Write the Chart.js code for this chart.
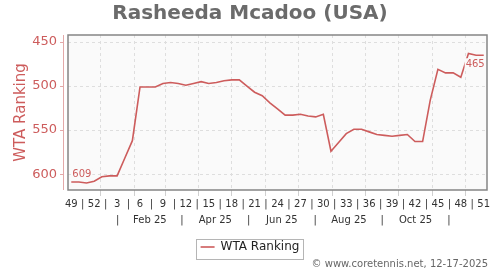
<!DOCTYPE html>
<html>
<head>
<meta charset="utf-8">
<script src="https://cdn.jsdelivr.net/npm/chart.js@4.4.1/dist/chart.umd.min.js"></script>
<style>
  html, body { margin: 0; padding: 0; background: #fff; }
</style>
</head>
<body>
<canvas id="rankChart" width="500" height="270"></canvas>
<script>
// Weekly WTA ranking, one value per ISO week (plotted on the week's Thursday)
const playerName = "Rasheeda Mcadoo (USA)";
const seriesLabel = "WTA Ranking";
const firstWeek = "2024-12-05";   // week 49 / 2024
const wtaRanking = [
  609, 609, 610, 608, 603, 602, 602, 582, 562, 501,
  501, 501, 497, 496, 497, 499, 497, 495, 497, 496,
  494, 493, 493, 500, 507, 511, 519, 526, 533, 533,
  532, 534, 535, 532, 574, 564, 554, 549, 549, 552,
  555, 556, 557, 556, 555, 563, 563, 516, 481, 485,
  485, 490, 463, 465, 465
];
const weekTickLabels = ["49","52","3","6","9","12","15","18","21","24","27","30","33","36","39","42","45","48","51"];
const monthTickLabels = ["Feb 25","Apr 25","Jun 25","Aug 25","Oct 25"];
const rankTicks = [450, 500, 550, 600];
const rangeStart = "2024-12-02";
const rangeEnd = "2025-12-21";
const footerText = "\u00a9 www.coretennis.net, 12-17-2025";

const FONT = "DejaVu Sans";
const RED = "#cd5c5c";
const DAY = 864e5;
const origin = Date.parse("2025-01-01");
const dayOf = s => (Date.parse(s) - origin) / DAY;

const x0 = dayOf(firstWeek);
const points = wtaRanking.map((v, i) => ({ x: x0 + 7 * i, y: v }));
const xMin = dayOf(rangeStart), xMax = dayOf(rangeEnd);

// grid at month starts, month names centred in every second month
const monthStarts = [];
for (let m = 0; m < 12; m++) monthStarts.push((Date.UTC(2025, m, 1) - origin) / DAY);
const monthTicks = [];
for (let m = 0; m < 11; m++) {
  const next = (Date.UTC(2025, m + 1, 1) - origin) / DAY;
  monthTicks.push({ value: (monthStarts[m] + next) / 2, lab: m % 2 ? monthTickLabels[(m - 1) / 2] : "|" });
}
const weekTicks = [];
weekTickLabels.forEach((lab, i) => {
  const v = x0 + 21 * i;
  weekTicks.push({ value: v, lab: lab });
  if (i < weekTickLabels.length - 1) weekTicks.push({ value: v + 10.5, lab: "|" });
});

const decor = {
  id: "decor",
  afterLayout(chart) {
    // centre title and legend on the whole canvas, not only the padded area
    const t = chart.titleBlock;
    if (t) { t.left = 0; t.right = chart.width; t.width = chart.width; }
    const lg = chart.legend;
    if (lg) {
      const tops = lg.legendHitBoxes.map(h => h.top);
      lg.left = 0; lg.right = chart.width; lg.width = chart.width;
      lg.adjustHitBoxes();
      lg.legendHitBoxes.forEach((h, i) => { h.top = tops[i] + 3; });
      lg.top += 3; lg.bottom += 3;
    }
  },
  beforeDraw(chart) {
    const { ctx, chartArea: a } = chart;
    ctx.save();
    ctx.fillStyle = "#fafafa";
    ctx.fillRect(a.left, a.top, a.right - a.left, a.bottom - a.top);
    ctx.restore();
  },
  afterDatasetsDraw(chart) {
    const { ctx } = chart;
    const meta = chart.getDatasetMeta(0).data;
    const first = meta[0], last = meta[meta.length - 1];
    ctx.save();
    ctx.font = "10px '" + FONT + "'";
    ctx.textBaseline = "middle";
    const label = (txt, x, y, align) => {
      const w = ctx.measureText(txt).width;
      const left = align === "left" ? x : x - w;
      ctx.fillStyle = "#fafafa";
      ctx.fillRect(left - 1, y - 6, w + 2, 12);
      ctx.fillStyle = RED;
      ctx.textAlign = align;
      ctx.fillText(txt, x, y);
    };
    label(String(wtaRanking[0]), first.x + 1, first.y - 8, "left");
    label(String(wtaRanking[wtaRanking.length - 1]), last.x + 1, last.y + 9, "right");
    ctx.restore();
  },
  afterDraw(chart) {
    const { ctx, chartArea: a } = chart;
    ctx.save();
    // plot frame
    ctx.strokeStyle = "#858585";
    ctx.lineWidth = 1.5;
    ctx.strokeRect(a.left, a.top, a.right - a.left, a.bottom - a.top);
    // detached y axis line with tick marks
    const yS = chart.scales.y;
    ctx.strokeStyle = "#e3a9a9";
    ctx.lineWidth = 1;
    ctx.beginPath();
    ctx.moveTo(a.left - 4.5, a.top);
    ctx.lineTo(a.left - 4.5, a.bottom);
    rankTicks.forEach(v => {
      const p = Math.round(yS.getPixelForValue(v)) + 0.5;
      ctx.moveTo(a.left - 8, p);
      ctx.lineTo(a.left - 4.5, p);
    });
    ctx.stroke();
    // legend frame
    const hb = chart.legend.legendHitBoxes[0];
    if (hb) {
      ctx.strokeStyle = "#b5b5b5";
      ctx.strokeRect(Math.round(hb.left) - 4.5, Math.round(hb.top + hb.height / 2) - 10.5, Math.round(hb.width) + 8, 20);
    }
    // footer
    ctx.font = "10px '" + FONT + "'";
    ctx.fillStyle = "#666";
    ctx.textAlign = "right";
    ctx.textBaseline = "middle";
    ctx.fillText(footerText, 488, 264);
    ctx.restore();
  }
};

new Chart(document.getElementById("rankChart"), {
  type: "line",
  data: {
    datasets: [{
      label: seriesLabel,
      data: points,
      borderColor: RED,
      backgroundColor: RED,
      borderWidth: 1.6,
      pointRadius: 0,
      tension: 0,
      fill: false
    }]
  },
  options: {
    responsive: false,
    animation: false,
    layout: { padding: { left: 0, right: 13, top: 0, bottom: 10 } },
    plugins: {
      title: {
        display: true,
        text: playerName,
        color: "#6b6b6b",
        font: { family: FONT, size: 20, weight: "bold" },
        padding: { top: 2, bottom: 9 }
      },
      legend: {
        position: "bottom",
        labels: {
          font: { family: FONT, size: 12 },
          color: "#222",
          usePointStyle: true,
          pointStyle: "line",
          pointStyleWidth: 14,
          padding: 10
        }
      },
      tooltip: { enabled: false }
    },
    scales: {
      x: {
        type: "linear",
        min: xMin, max: xMax,
        afterBuildTicks: s => { s.ticks = monthStarts.map(v => ({ value: v })); },
        afterFit: s => { s.height = 6; },
        ticks: { display: false },
        grid: { color: "#dedede", tickColor: "#d0d0d0", tickLength: 6, tickBorderDash: [] },
        border: { display: false, dash: [3, 3] }
      },
      xWeek: {
        type: "linear",
        position: "bottom",
        min: xMin, max: xMax,
        afterBuildTicks: s => { s.ticks = weekTicks.map(t => ({ value: t.value, lab: t.lab })); },
        afterFit: s => { s.height = 16; },
        ticks: {
          autoSkip: false, maxRotation: 0, minRotation: 0, padding: 2,
          font: { family: FONT, size: 10 }, color: "#333",
          callback: (v, i, ticks) => ticks[i].lab
        },
        grid: { display: false, drawTicks: false },
        border: { display: false }
      },
      xMonth: {
        type: "linear",
        position: "bottom",
        min: xMin, max: xMax,
        afterBuildTicks: s => { s.ticks = monthTicks.map(t => ({ value: t.value, lab: t.lab })); },
        afterFit: s => { s.height = 16; },
        ticks: {
          autoSkip: false, maxRotation: 0, minRotation: 0, padding: 2,
          font: { family: FONT, size: 10 }, color: "#333",
          callback: (v, i, ticks) => ticks[i].lab
        },
        grid: { display: false, drawTicks: false },
        border: { display: false }
      },
      y: {
        reverse: true,
        min: 442, max: 618,
        afterBuildTicks: s => { s.ticks = rankTicks.map(v => ({ value: v })); },
        afterFit: s => { s.width = 68; },
        ticks: { padding: 11, color: RED, font: { family: FONT, size: 13 } },
        grid: { color: "#dedede", drawTicks: false },
        border: { display: false, dash: [3, 3] },
        title: {
          display: true,
          text: seriesLabel,
          color: RED,
          font: { family: FONT, size: 15 },
          padding: { top: 12, bottom: 0 }
        }
      }
    }
  },
  plugins: [decor]
});
</script>
</body>
</html>
